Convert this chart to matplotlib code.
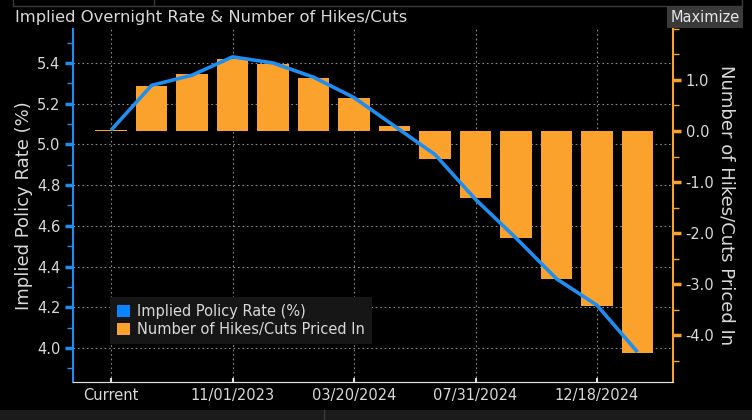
import numpy as np
import matplotlib
matplotlib.use("Agg")
import matplotlib.pyplot as plt
from matplotlib.patches import Patch, Rectangle
from matplotlib.lines import Line2D
from matplotlib.ticker import MultipleLocator, FixedLocator

# values
meetings = list(range(14))
tick_pos = [0, 3, 6, 9, 12]
tick_labels = ["Current", "11/01/2023", "03/20/2024", "07/31/2024", "12/18/2024"]

implied_rate = [5.07, 5.29, 5.34, 5.43, 5.40, 5.33, 5.23, 5.09,
                4.95, 4.73, 4.54, 4.34, 4.21, 3.98]
hikes_cuts = [0.02, 0.88, 1.12, 1.41, 1.32, 1.04, 0.65, 0.10,
              -0.55, -1.31, -2.10, -2.90, -3.43, -4.35]

BG = "black"
BLUE = "#1f8ef1"
ORANGE = "#fba22c"
TXT = "#d9d9d9"

plt.rcParams['font.family'] = ['DejaVu Sans']

fig = plt.figure(figsize=(7.52, 4.2), dpi=100, facecolor=BG)
ax = fig.add_axes([0.0971, 0.0905, 0.798, 0.8405])
ax.set_facecolor(BG)
ax2 = ax.twinx()
ax2.patch.set_visible(False)

ax.set_xlim(-0.94, 13.88)
ax.set_ylim(3.833, 5.567)
ax2.set_ylim(-4.92, 2.0)

# grid behind everything, from the left scale
ax.yaxis.set_major_locator(MultipleLocator(0.2))
ax.yaxis.set_minor_locator(MultipleLocator(0.1))
ax.set_xticks(tick_pos)
ax.set_xticklabels(tick_labels)
ax.grid(True, color="#8a8a8a", linestyle=(0, (1.5, 2.5)), linewidth=0.8)
ax.set_axisbelow(True)

# bars on the right scale, line on top using the left scale
ax2.bar(meetings, hikes_cuts, width=0.77, color=ORANGE, zorder=2)
ax2.plot(meetings, implied_rate, color=BLUE, linewidth=2.6, zorder=3,
         transform=ax.transData, solid_capstyle="butt")

ax.set_yticks([4.0, 4.2, 4.4, 4.6, 4.8, 5.0, 5.2, 5.4])
ax.set_yticklabels(["%.1f" % v for v in [4.0, 4.2, 4.4, 4.6, 4.8, 5.0, 5.2, 5.4]])
rt = [-4.0, -3.0, -2.0, -1.0, 0.0, 1.0]
ax2.yaxis.set_major_locator(FixedLocator(rt))
ax2.set_yticklabels(["%.1f" % v for v in rt])
ax2.yaxis.set_minor_locator(MultipleLocator(0.5))

for s in ["top"]:
    ax.spines[s].set_visible(False)
    ax2.spines[s].set_visible(False)
ax.spines["left"].set_color(BLUE)
ax.spines["left"].set_linewidth(1.5)
ax.spines["right"].set_visible(False)
ax2.spines["left"].set_visible(False)
ax2.spines["right"].set_color(ORANGE)
ax2.spines["right"].set_linewidth(1.5)
ax.spines["bottom"].set_color("#e0e0e0")
ax2.spines["bottom"].set_color("#e0e0e0")

ax.tick_params(axis="y", which="major", colors=BLUE, length=6, width=2.5,
               labelcolor=TXT, labelsize=10.5, pad=3)
ax.tick_params(axis="y", which="minor", colors=BLUE, length=4, width=1)
ax2.tick_params(axis="y", which="major", colors=ORANGE, length=6, width=2.5,
                labelcolor=TXT, labelsize=10.5, pad=3)
ax2.tick_params(axis="y", which="minor", colors=ORANGE, length=4, width=1)
ax.tick_params(axis="x", direction="in", colors="#e0e0e0", length=3, width=1.5,
               labelcolor=TXT, labelsize=10.5, pad=4)

ax.set_ylabel("Implied Policy Rate (%)", color=TXT, fontsize=13, labelpad=3)
ax2.set_ylabel("Number of Hikes/Cuts Priced In", color=TXT, fontsize=13,
               rotation=270, labelpad=15)

handles = [Patch(facecolor="#0a84ff", edgecolor="none"),
           Patch(facecolor=ORANGE, edgecolor="none")]
leg = ax2.legend(handles, ["Implied Policy Rate (%)", "Number of Hikes/Cuts Priced In"],
                 loc="lower left", bbox_to_anchor=(0.062, 0.108), frameon=True,
                 facecolor="#161616", edgecolor="none", framealpha=1,
                 fontsize=10.5, labelcolor=TXT, handlelength=0.9, handleheight=0.9,
                 handletextpad=0.5, borderpad=0.45, labelspacing=0.25,
                 borderaxespad=0, fancybox=False)

# title and window chrome
fig.text(0.02, 0.958, "Implied Overnight Rate & Number of Hikes/Cuts", color=TXT,
         fontsize=11.8, va="center", ha="left")
fig.text(0.9375, 0.958, "Maximize", color="#e6e6e6", fontsize=10.5, va="center", ha="center",
         bbox=dict(boxstyle="square,pad=0.22", facecolor="#3a3a3a", edgecolor="none"))
fig.add_artist(Rectangle((0, 0), 1, 10 / 420, transform=fig.transFigure,
                         facecolor="#1b1b1b", edgecolor="none"))
fig.add_artist(Line2D([324 / 752, 324 / 752], [0, 10 / 420], transform=fig.transFigure,
                      color="#3a3a3a", linewidth=1))
fig.add_artist(Line2D([13 / 752, 742 / 752], [414 / 420, 414 / 420], transform=fig.transFigure,
                      color="#3a3a3a", linewidth=1))
for xv in [13, 154, 742]:
    fig.add_artist(Line2D([xv / 752, xv / 752], [414 / 420, 1], transform=fig.transFigure,
                          color="#3a3a3a", linewidth=1))

fig.savefig("out.png", dpi=100, facecolor=BG)
